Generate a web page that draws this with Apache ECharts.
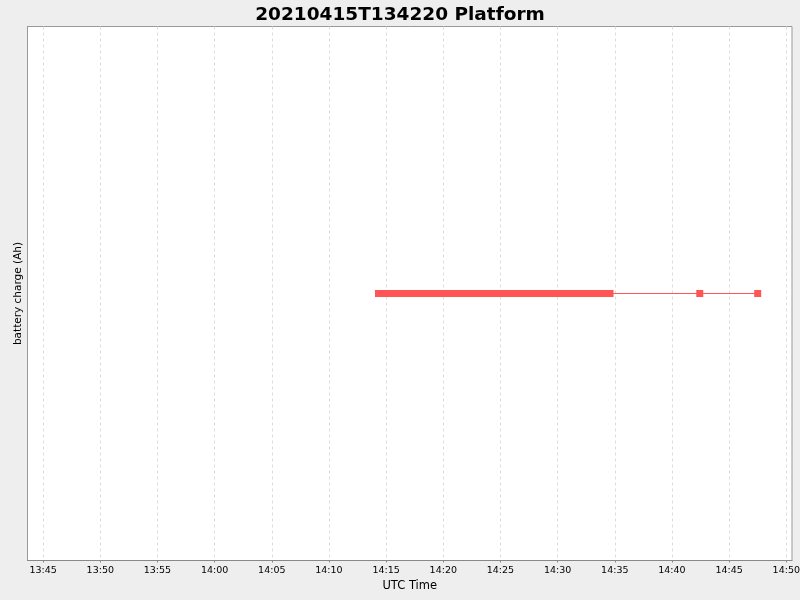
<!DOCTYPE html>
<html>
<head>
<meta charset="utf-8">
<script src="https://cdn.jsdelivr.net/npm/echarts@6/dist/echarts.min.js"></script>
<style>
html,body{margin:0;padding:0;background:#eeeeee;}
#chart{width:800px;height:600px;}
</style>
</head>
<body>
<div id="chart"></div>
<script>
var chartTitle = '20210415T134220 Platform';
var xAxisName = 'UTC Time';
var yAxisName = 'battery charge (Ah)';
var day = '2021-04-15 ';
var axisStart = '13:43:38';
var axisEnd = '14:50:30';
var sampleTimes = [
  '14:14:20','14:14:50','14:15:20','14:15:50','14:16:20','14:16:50','14:17:20','14:17:50',
  '14:18:20','14:18:50','14:19:20','14:19:50','14:20:20','14:20:50','14:21:20','14:21:50',
  '14:22:20','14:22:50','14:23:20','14:23:50','14:24:20','14:24:50','14:25:20','14:25:50',
  '14:26:20','14:26:50','14:27:20','14:27:50','14:28:20','14:28:50','14:29:20','14:29:50',
  '14:30:20','14:30:50','14:31:20','14:31:50','14:32:20','14:32:50','14:33:20','14:33:50',
  '14:34:20','14:34:35','14:42:26','14:47:30'
];
var chargeAh = [
  0,0,0,0,0,0,0,0,
  0,0,0,0,0,0,0,0,
  0,0,0,0,0,0,0,0,
  0,0,0,0,0,0,0,0,
  0,0,0,0,0,0,0,0,
  0,0,0,0
];

var seriesData = sampleTimes.map(function (t, i) { return [day + t, chargeAh[i]]; });

var chart = echarts.init(document.getElementById('chart'));
chart.setOption({
  backgroundColor: '#eeeeee',
  animation: false,
  title: {
    text: chartTitle,
    left: 'center',
    top: 1,
    textStyle: { fontFamily: 'DejaVu Sans', fontSize: 18.5, fontWeight: 'bold', color: '#000' }
  },
  grid: {
    left: 27.5, right: 8, top: 26.5, bottom: 39.5,
    containLabel: false,
    outerBoundsMode: 'none',
    show: true, backgroundColor: '#ffffff', borderColor: '#999999', borderWidth: 1
  },
  xAxis: {
    type: 'time',
    min: day + axisStart,
    max: day + axisEnd,
    minInterval: 6 * 60 * 1000,
    maxInterval: 6 * 60 * 1000,
    name: xAxisName,
    nameLocation: 'middle',
    nameGap: 20,
    nameTextStyle: { fontFamily: 'DejaVu Sans', fontSize: 11.5, color: '#000' },
    axisLine: { show: true, onZero: false, lineStyle: { color: '#888888' } },
    axisTick: { show: true, length: 2, lineStyle: { color: '#888888' } },
    axisLabel: {
      formatter: '{HH}:{mm}',
      fontFamily: 'DejaVu Sans', fontSize: 9.5, color: '#000', margin: 5,
      showMinLabel: false, showMaxLabel: false, hideOverlap: false
    },
    splitLine: {
      show: true, showMinLine: false, showMaxLine: false,
      lineStyle: { color: '#dddddd', type: [3, 3], width: 1 }
    }
  },
  yAxis: {
    type: 'value',
    min: -1,
    max: 1,
    name: yAxisName,
    nameLocation: 'middle',
    nameGap: 4,
    nameTextStyle: { fontFamily: 'DejaVu Sans', fontSize: 10.5, color: '#000' },
    axisLine: { show: true, lineStyle: { color: '#999999' } },
    axisTick: { show: false },
    axisLabel: { show: false },
    splitLine: { show: false }
  },
  series: [{
    type: 'line',
    data: seriesData,
    symbol: 'rect',
    symbolSize: 7,
    showSymbol: true,
    showAllSymbol: true,
    itemStyle: { color: '#ff5555' },
    lineStyle: { color: '#ff5555', width: 1 }
  }]
});
</script>
</body>
</html>
